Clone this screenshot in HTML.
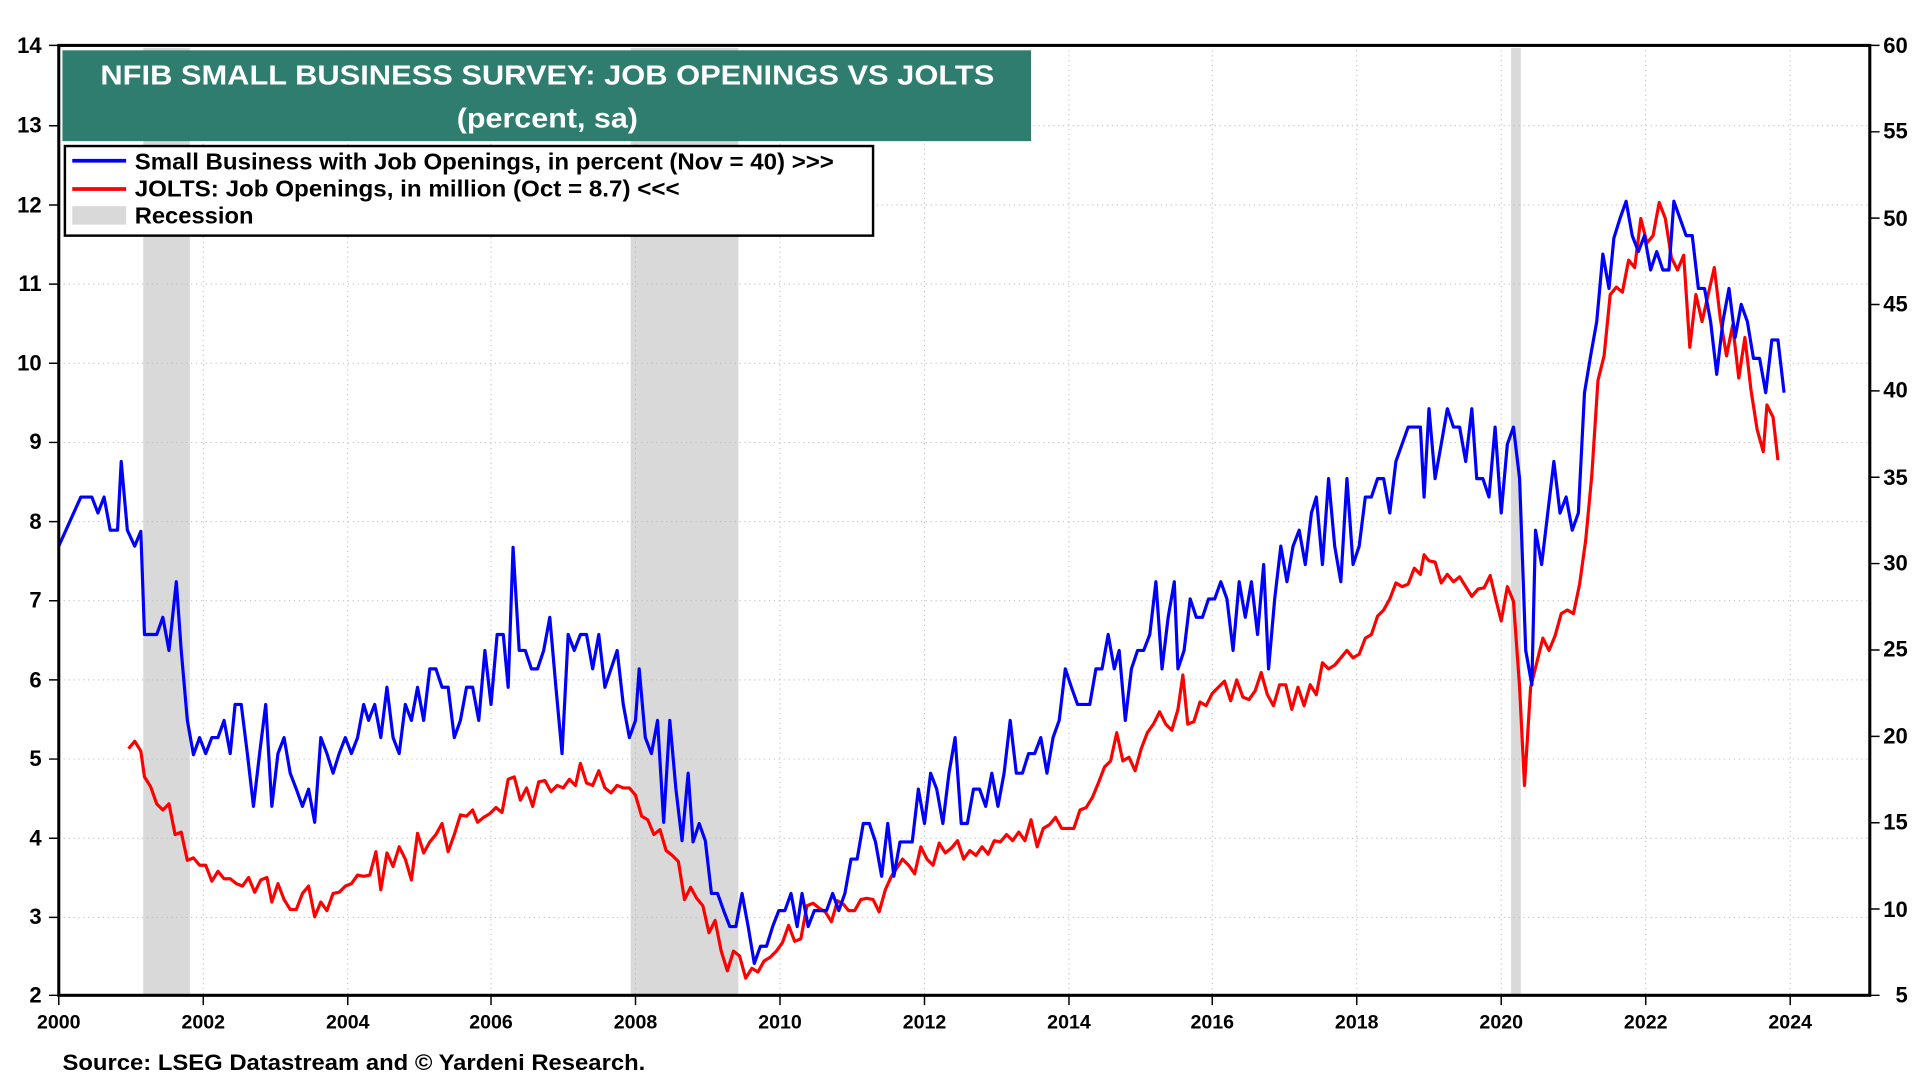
<!DOCTYPE html>
<html><head><style>html,body{margin:0;padding:0;background:#fff}svg{display:block}</style></head><body>
<svg width="1920" height="1080" viewBox="0 0 1568 880" preserveAspectRatio="none" xmlns="http://www.w3.org/2000/svg" font-family="Liberation Sans, Arial, sans-serif" font-weight="bold">
<rect width="1568" height="880" fill="#fff"/>
<rect x="117" y="39" width="38" height="771" fill="#d9d9d9"/>
<rect x="515" y="39" width="88" height="771" fill="#d9d9d9"/>
<rect x="1234" y="39" width="8" height="771" fill="#d9d9d9"/>
<g stroke="#bbb" stroke-width="0.8" stroke-dasharray="1,3">
<path d="M48,102.5H1527M48,167H1527M48,231.5H1527M48,296H1527M48,360.5H1527M48,425H1527M48,489.5H1527M48,554H1527M48,618.5H1527M48,683H1527M48,747.5H1527"/>
<path d="M166,37V811M284,37V811M401,37V811M519,37V811M637,37V811M755,37V811M873,37V811M990,37V811M1108,37V811M1226,37V811M1344,37V811M1462,37V811"/>
</g>
<polyline fill="none" stroke="#ff0000" stroke-width="2.6" stroke-linejoin="round" points="105,610 110,604 115,612 118,633 123,641 128,655 133,660 138,655 143,680 148,678 153,701 158,699 163,705 168,705 173,718 178,710 183,716 188,716 193,720 198,722 203,715 208,727 213,717 218,715 222,735 227,720 232,733 237,741 242,741 247,728 252,722 257,747 262,735 267,742 272,728 277,727 282,722 287,720 292,713 297,714 302,713 307,694 311,725 316,695 321,706 326,690 331,700 336,717 341,679 346,695 351,686 356,680 361,671 366,694 371,680 376,664 381,665 386,660 390,670 395,666 400,663 405,658 410,662 415,635 420,633 425,652 430,642 435,657 440,637 445,636 450,645 455,640 460,642 465,635 470,640 474,622 479,638 484,640 489,628 494,642 499,646 504,640 509,642 514,642 519,648 524,665 529,668 534,680 539,676 544,693 549,697 554,702 559,733 564,723 569,732 574,738 579,760 584,750 589,775 594,791 599,775 604,779 609,797 614,789 619,792 624,783 629,780 634,775 639,768 644,754 649,767 654,765 659,738 664,736 669,740 674,743 679,751 684,734 689,737 693,742 698,742 703,733 708,732 713,733 718,743 723,725 728,714 732,708 737,700 742,705 747,712 752,690 757,700 762,705 767,687 772,695 777,691 782,685 787,700 792,693 797,697 802,690 807,696 812,685 817,686 822,680 827,685 832,678 837,685 842,668 847,690 852,675 857,672 862,666 867,675 872,675 877,675 882,660 887,658 892,650 897,638 902,625 907,620 912,597 917,620 922,617 927,628 932,610 937,597 942,590 947,580 952,590 957,595 962,578 966,550 970,590 975,588 980,572 985,575 990,565 995,560 1000,555 1005,571 1010,554 1015,568 1020,570 1025,563 1030,548 1035,566 1040,575 1045,558 1050,558 1055,578 1060,560 1065,575 1070,558 1075,566 1080,540 1085,545 1090,542 1095,536 1100,530 1105,536 1110,533 1115,520 1120,517 1125,502 1130,497 1135,488 1140,475 1145,478 1150,476 1155,463 1160,468 1163,452 1167,457 1172,458 1177,475 1182,468 1187,474 1192,470 1197,478 1202,486 1207,480 1212,479 1217,469 1222,490 1226,506 1231,478 1236,490 1241,560 1245,640 1250,560 1255,540 1260,520 1265,530 1270,518 1275,500 1280,497 1285,500 1290,476 1295,440 1300,387 1305,310 1310,290 1315,240 1320,234 1325,238 1330,212 1335,218 1340,178 1345,198 1350,192 1355,165 1360,178 1365,210 1370,220 1375,208 1380,283 1385,240 1390,262 1395,240 1400,218 1405,260 1410,290 1415,265 1420,308 1425,275 1430,318 1435,350 1440,368 1443,330 1448,340 1452,375"/>
<polyline fill="none" stroke="#0000ff" stroke-width="2.6" stroke-linejoin="round" points="48,445 57,425 66,405 75,405 80,418 85,405 90,432 96,432 99,376 104,432 110,445 115,433 118,517 128,517 133,503 138,530 144,474 148,530 153,587 158,615 163,601 168,614 173,601 178,601 183,587 188,614 192,574 197,574 202,614 207,657 212,614 217,574 222,657 227,614 232,601 237,630 242,643 247,657 252,643 257,670 262,601 267,614 272,630 277,614 282,601 287,614 292,601 297,574 301,587 306,574 311,601 316,560 321,601 326,614 331,574 336,587 341,560 346,587 351,545 356,545 361,560 366,560 371,601 376,587 381,560 386,560 391,587 396,530 401,574 406,517 411,517 415,560 419,446 424,530 429,530 434,545 439,545 444,530 449,503 454,560 459,614 464,517 469,530 474,517 479,517 484,545 489,517 494,560 499,545 504,530 509,574 514,601 519,587 522,545 527,601 532,614 537,587 542,670 547,587 552,643 557,685 562,630 566,686 571,671 576,685 581,728 586,728 591,742 596,755 601,755 606,728 611,755 616,785 621,771 626,771 631,755 636,742 641,742 646,728 651,755 655,728 660,755 665,742 670,742 675,742 680,728 685,742 690,728 695,700 700,700 705,671 710,671 715,686 720,714 725,671 730,714 735,686 740,686 745,686 750,643 755,671 760,630 765,643 770,671 775,630 780,601 785,671 790,671 795,643 800,643 805,657 810,630 815,657 820,630 825,587 830,630 835,630 840,614 845,614 850,601 855,630 860,601 865,587 870,545 875,560 880,574 885,574 890,574 895,545 900,545 905,517 910,545 914,530 919,587 924,545 929,530 934,530 939,517 944,474 949,545 954,503 959,474 962,545 967,530 972,488 977,503 982,503 987,488 992,488 997,474 1002,488 1007,530 1012,474 1017,503 1022,474 1027,517 1032,460 1036,545 1041,488 1046,445 1051,474 1056,445 1061,432 1066,460 1071,418 1075,405 1080,460 1085,390 1090,445 1095,474 1100,390 1105,460 1110,445 1115,405 1120,405 1125,390 1130,390 1135,418 1140,376 1145,362 1150,348 1155,348 1160,348 1163,405 1167,333 1172,390 1177,362 1182,333 1187,348 1192,348 1197,376 1202,333 1206,390 1211,390 1216,405 1221,348 1226,418 1231,362 1236,348 1241,390 1246,530 1251,558 1254,432 1259,460 1264,418 1269,376 1274,418 1279,405 1284,432 1289,418 1294,320 1299,290 1304,262 1309,207 1314,235 1318,194 1323,178 1328,164 1333,192 1338,205 1343,192 1348,220 1353,205 1358,220 1363,220 1367,164 1372,178 1377,192 1382,192 1387,235 1392,235 1397,262 1402,305 1407,262 1412,235 1417,275 1422,248 1427,262 1432,292 1437,292 1442,320 1447,277 1452,277 1457,320"/>
<rect x="48" y="37" width="1479" height="774" fill="none" stroke="#000" stroke-width="2.5"/>
<g stroke="#000" stroke-width="1.2">
<path d="M40,37H48M40,102.5H48M40,167H48M40,231.5H48M40,296H48M40,360.5H48M40,425H48M40,489.5H48M40,554H48M40,618.5H48M40,683H48M40,747.5H48M40,811H48"/>
<path d="M1527,37H1535M1527,107.4H1535M1527,177.7H1535M1527,248.1H1535M1527,318.5H1535M1527,388.9H1535M1527,459.2H1535M1527,529.6H1535M1527,600H1535M1527,670.4H1535M1527,740.7H1535M1527,811H1535"/>
<path d="M48,811V819M166,811V819M284,811V819M401,811V819M519,811V819M637,811V819M755,811V819M873,811V819M990,811V819M1108,811V819M1226,811V819M1344,811V819M1462,811V819"/>
</g>
<g font-size="18" fill="#000" text-anchor="end">
<text x="34" y="43">14</text><text x="34" y="108">13</text><text x="34" y="173">12</text><text x="34" y="237">11</text><text x="34" y="302">10</text><text x="34" y="366">9</text><text x="34" y="431">8</text><text x="34" y="495">7</text><text x="34" y="560">6</text><text x="34" y="624">5</text><text x="34" y="689">4</text><text x="34" y="753">3</text><text x="34" y="817">2</text>
</g>
<g font-size="18" fill="#000" text-anchor="end">
<text x="1558" y="43">60</text><text x="1558" y="113">55</text><text x="1558" y="184">50</text><text x="1558" y="254">45</text><text x="1558" y="324">40</text><text x="1558" y="395">35</text><text x="1558" y="465">30</text><text x="1558" y="535">25</text><text x="1558" y="606">20</text><text x="1558" y="676">15</text><text x="1558" y="747">10</text><text x="1558" y="817">5</text>
</g>
<g font-size="16" fill="#000" text-anchor="middle">
<text x="48" y="838">2000</text><text x="166" y="838">2002</text><text x="284" y="838">2004</text><text x="401" y="838">2006</text><text x="519" y="838">2008</text><text x="637" y="838">2010</text><text x="755" y="838">2012</text><text x="873" y="838">2014</text><text x="990" y="838">2016</text><text x="1108" y="838">2018</text><text x="1226" y="838">2020</text><text x="1344" y="838">2022</text><text x="1462" y="838">2024</text>
</g>
<rect x="51" y="41" width="791" height="74" fill="#2e7d6f"/>
<text x="82" y="69" font-size="23" fill="#fff" textLength="730" lengthAdjust="spacingAndGlyphs">NFIB SMALL BUSINESS SURVEY: JOB OPENINGS VS JOLTS</text>
<text x="373" y="104" font-size="23" fill="#fff" textLength="148" lengthAdjust="spacingAndGlyphs">(percent, sa)</text>
<rect x="53" y="119" width="660" height="73" fill="#fff" stroke="#000" stroke-width="2"/>
<line x1="59" y1="131" x2="103" y2="131" stroke="#0000ff" stroke-width="3"/>
<line x1="59" y1="154" x2="103" y2="154" stroke="#ff0000" stroke-width="3"/>
<rect x="59" y="168" width="44" height="15" fill="#d9d9d9"/>
<g font-size="18.5" fill="#000">
<text x="110" y="138" textLength="571" lengthAdjust="spacingAndGlyphs">Small Business with Job Openings, in percent (Nov = 40) &gt;&gt;&gt;</text>
<text x="110" y="160" textLength="445" lengthAdjust="spacingAndGlyphs">JOLTS: Job Openings, in million (Oct = 8.7) &lt;&lt;&lt;</text>
<text x="110" y="182" textLength="97" lengthAdjust="spacingAndGlyphs">Recession</text>
</g>
<text x="51" y="872" font-size="18" fill="#000" textLength="476" lengthAdjust="spacingAndGlyphs">Source: LSEG Datastream and © Yardeni Research.</text>
</svg>
</body></html>
